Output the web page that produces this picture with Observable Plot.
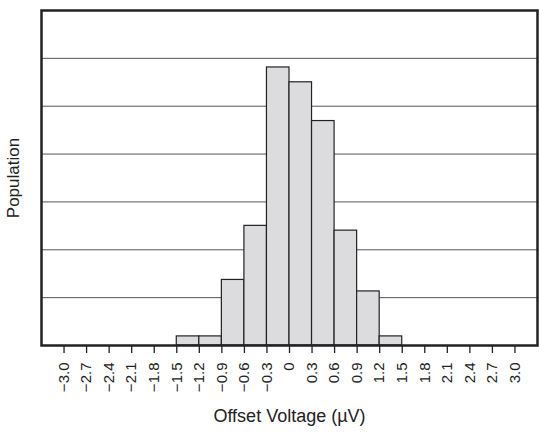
<!DOCTYPE html>
<html>
<head>
<meta charset="utf-8">
<script src="https://cdn.jsdelivr.net/npm/d3@7"></script>
<script src="https://cdn.jsdelivr.net/npm/@observablehq/plot@0.6"></script>
<style>
  html, body { margin: 0; padding: 0; background: #fff; }
  #chart svg { display: block; }
</style>
</head>
<body>
<div id="chart"></div>
<script>
// Bin edges (µV) and population heights (in gridline units)
const binStart = [-1.5, -1.2, -0.9, -0.6, -0.3, 0.0, 0.3, 0.6, 0.9, 1.2];
const binEnd   = [-1.2, -0.9, -0.6, -0.3, 0.0, 0.3, 0.6, 0.9, 1.2, 1.5];
const population = [0.19, 0.19, 1.37, 2.5, 5.81, 5.5, 4.69, 2.4, 1.13, 0.19];
const xTicks = [-3.0, -2.7, -2.4, -2.1, -1.8, -1.5, -1.2, -0.9, -0.6, -0.3, 0, 0.3, 0.6, 0.9, 1.2, 1.5, 1.8, 2.1, 2.4, 2.7, 3.0];
const gridLevels = [1, 2, 3, 4, 5, 6];
const xTitle = "Offset Voltage (\u00B5V)";
const yTitle = "Population";

const bins = binStart.map((s, i) => ({x1: s, x2: binEnd[i], y: population[i]}));
const fmt = d3.format(".1f");

const chart = Plot.plot({
  width: 539,
  height: 432,
  marginLeft: 41,
  marginRight: 2,
  marginTop: 10,
  marginBottom: 87,
  style: {fontFamily: "'Liberation Sans', Arial, sans-serif", fontSize: "15px", color: "#222", background: "#fff"},
  x: {domain: [-3.3, 3.3]},
  y: {domain: [0, 7]},
  marks: [
    Plot.ruleY(gridLevels, {stroke: "#555", strokeWidth: 1}),
    Plot.rectY(bins, {x1: "x1", x2: "x2", y: "y", fill: "#dcdcde", stroke: "#222", strokeWidth: 1.2}),
    Plot.axisX({ticks: xTicks, tickFormat: d => d === 0 ? "0" : fmt(d), tickRotate: -90, tickSize: 8, tickPadding: 9, label: null, stroke: "#222", strokeWidth: 1.3, fontSize: 15}),
    Plot.axisY({ticks: [], label: null}),
    Plot.frame({stroke: "#222", strokeWidth: 2.5}),
    Plot.text([yTitle], {text: d => d, frameAnchor: "left", textAnchor: "middle", dx: -28, rotate: -90, fontSize: 17, fill: "#222"}),
    Plot.text([xTitle], {text: d => d, frameAnchor: "bottom", dy: 76, fontSize: 18, fill: "#222"})
  ]
});
document.getElementById("chart").appendChild(chart);
</script>
</body>
</html>
